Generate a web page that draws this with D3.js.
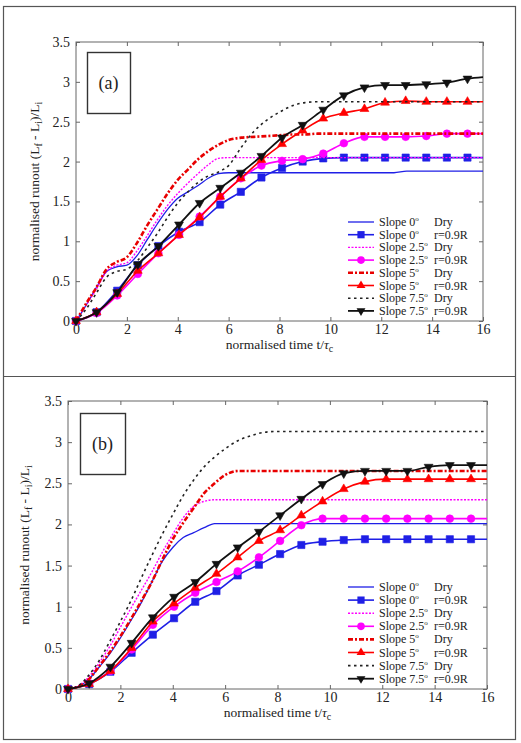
<!DOCTYPE html>
<html>
<head>
<meta charset="utf-8">
<script src="https://cdn.jsdelivr.net/npm/d3@7"></script>
<style>
  body { margin: 0; background: #fff; }
  svg { display: block; }
  text { font-family: "Liberation Serif", "Times New Roman", serif; fill: #222; }
</style>
</head>
<body>
<div id="wrapper"></div>
<script>
// ---- data ----
const tWet = [0, 0.81, 1.62, 2.43, 3.24, 4.05, 4.86, 5.67, 6.48, 7.29, 8.1, 8.91, 9.72, 10.53, 11.34, 12.15, 12.96, 13.77, 14.58, 15.39, 16];
const tDry = [0, 0.4, 0.8, 1.2, 1.6, 2.0, 2.4, 2.8, 3.2, 3.6, 4.0, 4.4, 4.8, 5.2, 5.6, 6.0, 6.5, 7, 7.5, 8, 8.5, 9, 9.5, 10, 11, 12, 12.5, 13, 14, 15, 16];

const xTicks = [0, 2, 4, 6, 8, 10, 12, 14, 16];
const yTicks = [0, 0.5, 1, 1.5, 2, 2.5, 3, 3.5];

const legendAngles = ["0", "0", "2.5", "2.5", "5", "5", "7.5", "7.5"];
const legendConds = ["Dry", "r=0.9R", "Dry", "r=0.9R", "Dry", "r=0.9R", "Dry", "r=0.9R"];

// panel (a)
const a_dry0  = [0, 0.2, 0.42, 0.62, 0.68, 0.7, 0.82, 1.02, 1.22, 1.4, 1.54, 1.62, 1.7, 1.79, 1.85, 1.86, 1.86, 1.86, 1.86, 1.86, 1.86, 1.86, 1.86, 1.86, 1.86, 1.86, 1.86, 1.88, 1.88, 1.88, 1.88];
const a_dry25 = [0, 0.2, 0.4, 0.62, 0.7, 0.73, 0.88, 1.07, 1.27, 1.45, 1.6, 1.73, 1.85, 1.96, 2.04, 2.05, 2.05, 2.05, 2.05, 2.05, 2.05, 2.05, 2.05, 2.05, 2.05, 2.05, 2.05, 2.05, 2.05, 2.05, 2.05];
const a_dry5  = [0, 0.22, 0.42, 0.65, 0.74, 0.8, 0.98, 1.2, 1.4, 1.6, 1.77, 1.9, 2.03, 2.13, 2.21, 2.27, 2.3, 2.31, 2.32, 2.33, 2.34, 2.34, 2.35, 2.35, 2.35, 2.35, 2.35, 2.35, 2.35, 2.35, 2.35];
const a_dry75 = [0, 0.15, 0.35, 0.55, 0.62, 0.65, 0.75, 0.92, 1.1, 1.3, 1.48, 1.62, 1.74, 1.82, 1.87, 1.95, 2.18, 2.38, 2.52, 2.62, 2.7, 2.74, 2.75, 2.75, 2.75, 2.75, 2.75, 2.75, 2.75, 2.75, 2.75];
const a_wet0  = [0, 0.11, 0.38, 0.7, 0.94, 1.12, 1.24, 1.46, 1.62, 1.8, 1.92, 2.0, 2.04, 2.05, 2.05, 2.05, 2.05, 2.05, 2.05, 2.05, 2.05];
const a_wet25 = [0, 0.1, 0.32, 0.59, 0.85, 1.08, 1.31, 1.56, 1.79, 1.95, 2.01, 2.03, 2.1, 2.23, 2.31, 2.31, 2.31, 2.32, 2.35, 2.35, 2.35];
const a_wet5  = [0, 0.11, 0.34, 0.63, 0.85, 1.08, 1.3, 1.56, 1.79, 2.02, 2.22, 2.39, 2.54, 2.61, 2.66, 2.74, 2.76, 2.75, 2.75, 2.75, 2.75];
const a_wet75 = [0, 0.11, 0.36, 0.71, 0.94, 1.21, 1.48, 1.67, 1.86, 2.07, 2.3, 2.46, 2.65, 2.83, 2.93, 2.96, 2.96, 2.97, 2.99, 3.04, 3.06];

// panel (b)
const b_dry0  = [0, 0.03, 0.12, 0.27, 0.43, 0.62, 0.83, 1.05, 1.3, 1.55, 1.72, 1.84, 1.9, 1.96, 2.01, 2.01, 2.01, 2.01, 2.01, 2.01, 2.01, 2.01, 2.01, 2.01, 2.01, 2.01, 2.01, 2.01, 2.01, 2.01, 2.01];
const b_dry25 = [0, 0.04, 0.15, 0.32, 0.52, 0.75, 0.98, 1.2, 1.42, 1.66, 1.88, 2.08, 2.22, 2.28, 2.3, 2.3, 2.3, 2.3, 2.3, 2.3, 2.3, 2.3, 2.3, 2.3, 2.3, 2.3, 2.3, 2.3, 2.3, 2.3, 2.3];
const b_dry5  = [0, 0.03, 0.12, 0.28, 0.45, 0.64, 0.85, 1.07, 1.3, 1.57, 1.82, 2.02, 2.2, 2.38, 2.5, 2.6, 2.65, 2.65, 2.65, 2.65, 2.65, 2.65, 2.65, 2.65, 2.65, 2.65, 2.65, 2.65, 2.65, 2.65, 2.65];
const b_dry75 = [0, 0.04, 0.17, 0.35, 0.58, 0.82, 1.07, 1.35, 1.62, 1.88, 2.12, 2.35, 2.54, 2.7, 2.82, 2.92, 3.02, 3.08, 3.12, 3.13, 3.13, 3.13, 3.13, 3.13, 3.13, 3.13, 3.13, 3.13, 3.13, 3.13, 3.13];
const b_wet0  = [0, 0.06, 0.21, 0.44, 0.66, 0.86, 1.06, 1.19, 1.38, 1.51, 1.64, 1.75, 1.79, 1.81, 1.82, 1.82, 1.82, 1.82, 1.82, 1.82, 1.82];
const b_wet25 = [0, 0.07, 0.22, 0.48, 0.78, 1.0, 1.17, 1.3, 1.43, 1.6, 1.8, 1.99, 2.07, 2.07, 2.07, 2.07, 2.07, 2.07, 2.07, 2.07, 2.07];
const b_wet5  = [0, 0.06, 0.22, 0.5, 0.82, 1.04, 1.23, 1.4, 1.6, 1.8, 1.93, 2.11, 2.28, 2.43, 2.52, 2.55, 2.55, 2.55, 2.55, 2.55, 2.55];
const b_wet75 = [0, 0.07, 0.27, 0.56, 0.87, 1.12, 1.3, 1.52, 1.72, 1.91, 2.11, 2.31, 2.49, 2.62, 2.65, 2.65, 2.65, 2.7, 2.72, 2.72, 2.72];

// ---- styles ----
const styles = [
  {color: "#1f1fe6", width: 1.3, dash: null, marker: null},
  {color: "#1f1fe6", width: 1.6, dash: null, marker: "square"},
  {color: "#ff00ff", width: 1.4, dash: "2,1.5", marker: null},
  {color: "#ff00ff", width: 1.6, dash: null, marker: "circle"},
  {color: "#e80000", width: 2.6, dash: "5,2,2,2", marker: null},
  {color: "#ff0000", width: 1.6, dash: null, marker: "up"},
  {color: "#222", width: 1.6, dash: "2.5,3.5", marker: null},
  {color: "#111", width: 1.8, dash: null, marker: "down"}
];

const markerPath = {
  square: d3.symbol().type(d3.symbolSquare).size(52)(),
  circle: d3.symbol().type(d3.symbolCircle).size(46)(),
  up: d3.symbol().type(d3.symbolTriangle).size(34)(),
  down: d3.symbol().type(d3.symbolTriangle).size(34)()
};

const width = 521, height = 743;
const svg = d3.select("#wrapper").append("svg").attr("width", width).attr("height", height);

// outer frames
svg.append("rect").attr("x", 3.5).attr("y", 6.5).attr("width", 512).attr("height", 733)
  .attr("fill", "none").attr("stroke", "#555").attr("stroke-width", 1.2);
svg.append("line").attr("x1", 3.5).attr("x2", 515.5).attr("y1", 376.5).attr("y2", 376.5)
  .attr("stroke", "#555").attr("stroke-width", 1.2);

const drawPanel = (cfg) => {
  const xScale = d3.scaleLinear().domain([0, 16]).range([cfg.left, cfg.right]);
  const yScale = d3.scaleLinear().domain([0, 3.5]).range([cfg.bottom, cfg.top]);
  const g = svg.append("g");

  // axes, ticks pointing inward
  g.append("g").attr("transform", `translate(0,${cfg.bottom})`)
    .call(d3.axisBottom(xScale).tickValues(xTicks).tickSize(-4).tickPadding(3).tickFormat(d => d));
  g.append("g").attr("transform", `translate(0,${cfg.top})`)
    .call(d3.axisTop(xScale).tickValues(xTicks).tickSize(-4).tickFormat(""));
  g.append("g").attr("transform", `translate(${cfg.left},0)`)
    .call(d3.axisLeft(yScale).tickValues(yTicks).tickSize(-4).tickPadding(6).tickFormat(d => d));
  g.append("g").attr("transform", `translate(${cfg.right},0)`)
    .call(d3.axisRight(yScale).tickValues(yTicks).tickSize(-4).tickFormat(""));
  g.selectAll(".domain").remove();
  g.selectAll(".tick line").attr("stroke", "#666");
  g.selectAll(".tick text").attr("font-size", 14).attr("fill", "#222")
    .style("font-family", '"Liberation Serif", serif');
  g.append("rect").attr("x", cfg.left).attr("y", cfg.top)
    .attr("width", cfg.right - cfg.left).attr("height", cfg.bottom - cfg.top)
    .attr("fill", "none").attr("stroke", "#666").attr("stroke-width", 1);

  // axis labels
  const xl = g.append("text").attr("x", (cfg.left + cfg.right) / 2).attr("y", cfg.bottom + 28)
    .attr("text-anchor", "middle").attr("font-size", 13.5);
  xl.append("tspan").text("normalised time t/");
  xl.append("tspan").attr("font-style", "italic").text("\u03c4");
  xl.append("tspan").attr("font-size", 10).attr("dy", 3).text("c");

  const yl = g.append("text")
    .attr("transform", `translate(${cfg.ylabelX},${(cfg.top + cfg.bottom) / 2}) rotate(-90)`)
    .attr("text-anchor", "middle").attr("font-size", 13.5);
  yl.append("tspan").text("normalised runout (L");
  yl.append("tspan").attr("font-size", 10).attr("dy", 3).text("f");
  yl.append("tspan").attr("dy", -3).text(" - L");
  yl.append("tspan").attr("font-size", 10).attr("dy", 3).text("i");
  yl.append("tspan").attr("dy", -3).text(")/L");
  yl.append("tspan").attr("font-size", 10).attr("dy", 3).text("i");

  // panel label box
  g.append("rect").attr("x", cfg.tag[0] + 0.5).attr("y", cfg.tag[1] + 0.5)
    .attr("width", cfg.tag[2]).attr("height", cfg.tag[3])
    .attr("fill", "#fff").attr("stroke", "#333").attr("stroke-width", 1.4);
  g.append("text").attr("x", cfg.tag[0] + cfg.tag[2] / 2).attr("y", cfg.tag[1] + cfg.tag[3] / 2 + 6)
    .attr("text-anchor", "middle").attr("font-size", 18).text(cfg.label);

  const line = d3.line().x(d => xScale(d[0])).y(d => yScale(d[1])).curve(d3.curveMonotoneX);

  // dry lines first, then wet lines with markers
  cfg.series.forEach((vals, i) => {
    const st = styles[i];
    const ts = st.marker ? tWet : tDry;
    const pts = vals.map((v, k) => [ts[k], v]);
    g.append("path").datum(pts).attr("d", line)
      .attr("fill", "none").attr("stroke", st.color).attr("stroke-width", st.width)
      .attr("stroke-dasharray", st.dash);
    if (st.marker) {
      g.append("g").selectAll("path").data(pts.slice(0, -1)).enter().append("path")
        .attr("d", markerPath[st.marker])
        .attr("transform", d => `translate(${xScale(d[0])},${yScale(d[1])})` + (st.marker === "down" ? " rotate(180)" : ""))
        .attr("fill", st.color).attr("stroke", st.color).attr("stroke-width", 0.6);
    }
  });

  // legend
  const lg = g.append("g");
  legendAngles.forEach((ang, i) => {
    const st = styles[i];
    const yy = cfg.legY + i * cfg.legDy;
    lg.append("line").attr("x1", cfg.legX).attr("x2", cfg.legX + 26).attr("y1", yy).attr("y2", yy)
      .attr("stroke", st.color).attr("stroke-width", st.width).attr("stroke-dasharray", st.dash);
    if (st.marker) {
      lg.append("path").attr("d", markerPath[st.marker])
        .attr("transform", `translate(${cfg.legX + 13},${yy})` + (st.marker === "down" ? " rotate(180)" : ""))
        .attr("fill", st.color);
    }
    const tx = lg.append("text").attr("x", cfg.legX + 31).attr("y", yy + 4).attr("font-size", 12);
    tx.append("tspan").text("Slope " + ang);
    tx.append("tspan").attr("font-size", 7).attr("dy", -5).text("o");
    lg.append("text").attr("x", cfg.legX + 86).attr("y", yy + 4).attr("font-size", 12).text(legendConds[i]);
  });
};

drawPanel({
  left: 76, right: 483, top: 42, bottom: 321, ylabelX: 39,
  tag: [87, 52, 43, 61], label: "(a)",
  legX: 348, legY: 222, legDy: 12.7,
  series: [a_dry0, a_wet0, a_dry25, a_wet25, a_dry5, a_wet5, a_dry75, a_wet75]
});

drawPanel({
  left: 68, right: 487, top: 401, bottom: 689, ylabelX: 29,
  tag: [80, 413, 45, 61], label: "(b)",
  legX: 348, legY: 587, legDy: 13.1,
  series: [b_dry0, b_wet0, b_dry25, b_wet25, b_dry5, b_wet5, b_dry75, b_wet75]
});
</script>
</body>
</html>
